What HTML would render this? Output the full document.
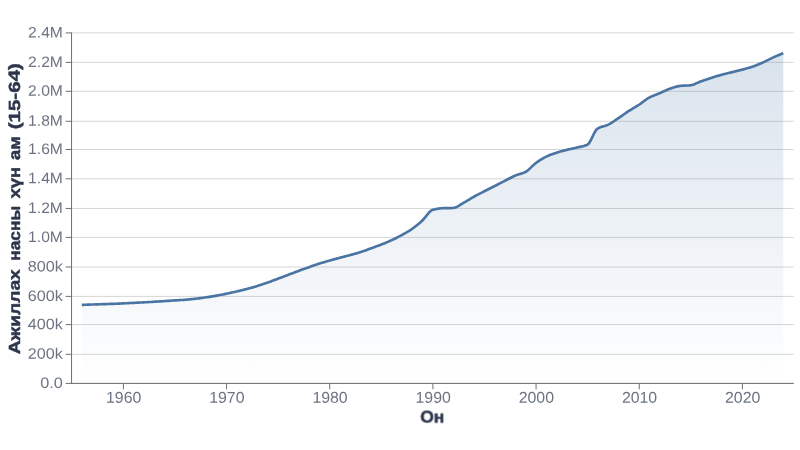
<!DOCTYPE html>
<html lang="mn">
<head>
<meta charset="utf-8">
<title>Ажиллах насны хүн ам (15-64)</title>
<style>
html,body{margin:0;padding:0;background:#fff;}
body{width:800px;height:450px;overflow:hidden;font-family:"Liberation Sans",sans-serif;}
svg{display:block;}
text{font-family:"Liberation Sans",sans-serif;}
.tick{font-size:15.2px;fill:#6b7280;}
.lab{font-size:16.1px;font-weight:bold;fill:#2b3349;stroke:#2b3349;stroke-width:0.45px;stroke-linejoin:round;}
</style>
</head>
<body>
<svg width="800" height="450" viewBox="0 0 800 450">
<defs><linearGradient id="g" gradientUnits="userSpaceOnUse" x1="0" y1="53" x2="0" y2="383.4"><stop offset="0" stop-color="#4272a4" stop-opacity="0.2"/><stop offset="1" stop-color="#4272a4" stop-opacity="0.0"/></linearGradient></defs>
<rect width="800" height="450" fill="#ffffff"/>
<g stroke="#d6d6d6" stroke-width="1.0" fill="none">
<line x1="71.56" y1="383.40" x2="793.75" y2="383.40"/>
<line x1="71.56" y1="354.30" x2="793.75" y2="354.30"/>
<line x1="71.56" y1="324.60" x2="793.75" y2="324.60"/>
<line x1="71.56" y1="296.40" x2="793.75" y2="296.40"/>
<line x1="71.56" y1="267.00" x2="793.75" y2="267.00"/>
<line x1="71.56" y1="237.40" x2="793.75" y2="237.40"/>
<line x1="71.56" y1="208.45" x2="793.75" y2="208.45"/>
<line x1="71.56" y1="178.80" x2="793.75" y2="178.80"/>
<line x1="71.56" y1="149.50" x2="793.75" y2="149.50"/>
<line x1="71.56" y1="121.30" x2="793.75" y2="121.30"/>
<line x1="71.56" y1="91.30" x2="793.75" y2="91.30"/>
<line x1="71.56" y1="62.40" x2="793.75" y2="62.40"/>
<line x1="71.56" y1="32.90" x2="793.75" y2="32.90"/>
</g>
<path d="M81.80 304.89L83.30 304.83L84.80 304.77L86.30 304.72L87.80 304.66L89.30 304.61L90.80 304.55L92.30 304.50L93.80 304.45L95.30 304.41L96.80 304.36L98.30 304.32L99.80 304.27L101.30 304.23L102.80 304.18L104.30 304.13L105.80 304.08L107.30 304.03L108.80 303.98L110.30 303.93L111.80 303.88L113.30 303.82L114.80 303.76L116.30 303.70L117.80 303.63L119.30 303.56L120.80 303.50L122.30 303.43L123.80 303.36L125.30 303.28L126.80 303.20L128.30 303.12L129.80 303.04L131.30 302.96L132.80 302.89L134.30 302.81L135.80 302.74L137.30 302.67L138.80 302.60L140.30 302.53L141.80 302.46L143.30 302.38L144.80 302.30L146.30 302.22L147.80 302.13L149.30 302.04L150.80 301.95L152.30 301.86L153.80 301.77L155.30 301.68L156.80 301.59L158.30 301.50L159.80 301.40L161.30 301.31L162.80 301.21L164.30 301.11L165.80 301.02L167.30 300.92L168.80 300.82L170.30 300.73L171.80 300.63L173.30 300.53L174.80 300.43L176.30 300.33L177.80 300.24L179.30 300.14L180.80 300.05L182.30 299.95L183.80 299.84L185.30 299.73L186.80 299.60L188.30 299.47L189.80 299.33L191.30 299.18L192.80 299.03L194.30 298.87L195.80 298.70L197.30 298.53L198.80 298.35L200.30 298.15L201.80 297.95L203.30 297.74L204.80 297.53L206.30 297.31L207.80 297.09L209.30 296.85L210.80 296.61L212.30 296.36L213.80 296.10L215.30 295.84L216.80 295.58L218.30 295.31L219.80 295.03L221.30 294.74L222.80 294.45L224.30 294.15L225.80 293.85L227.30 293.54L228.80 293.23L230.30 292.91L231.80 292.58L233.30 292.25L234.80 291.92L236.30 291.57L237.80 291.22L239.30 290.87L240.80 290.50L242.30 290.13L243.80 289.75L245.30 289.36L246.80 288.97L248.30 288.58L249.80 288.18L251.30 287.78L252.80 287.36L254.30 286.94L255.80 286.50L257.30 286.05L258.80 285.58L260.30 285.09L261.80 284.59L263.30 284.08L264.80 283.55L266.30 283.02L267.80 282.49L269.30 281.96L270.80 281.41L272.30 280.85L273.80 280.29L275.30 279.73L276.80 279.16L278.30 278.60L279.80 278.03L281.30 277.46L282.80 276.89L284.30 276.32L285.80 275.75L287.30 275.18L288.80 274.61L290.30 274.04L291.80 273.46L293.30 272.89L294.80 272.32L296.30 271.76L297.80 271.20L299.30 270.64L300.80 270.10L302.30 269.55L303.80 269.01L305.30 268.47L306.80 267.94L308.30 267.41L309.80 266.88L311.30 266.35L312.80 265.83L314.30 265.31L315.80 264.80L317.30 264.29L318.80 263.80L320.30 263.33L321.80 262.86L323.30 262.40L324.80 261.95L326.30 261.51L327.80 261.08L329.30 260.65L330.80 260.22L332.30 259.81L333.80 259.40L335.30 259.00L336.80 258.60L338.30 258.20L339.80 257.80L341.30 257.40L342.80 257.01L344.30 256.62L345.80 256.22L347.30 255.83L348.80 255.43L350.30 255.02L351.80 254.61L353.30 254.21L354.80 253.80L356.30 253.38L357.80 252.95L359.30 252.50L360.80 252.03L362.30 251.53L363.80 251.00L365.30 250.45L366.80 249.90L368.30 249.33L369.80 248.78L371.30 248.23L372.80 247.69L374.30 247.15L375.80 246.61L377.30 246.07L378.80 245.51L380.30 244.94L381.80 244.36L383.30 243.76L384.80 243.15L386.30 242.53L387.80 241.90L389.30 241.25L390.80 240.58L392.30 239.89L393.80 239.18L395.30 238.45L396.80 237.70L398.30 236.93L399.80 236.14L401.30 235.34L402.80 234.51L404.30 233.68L405.80 232.83L407.30 231.95L408.80 231.04L410.30 230.08L411.80 229.08L413.30 228.01L414.80 226.89L416.30 225.71L417.80 224.48L419.30 223.21L420.80 221.89L422.30 220.53L423.80 218.96L425.30 217.12L426.80 215.19L428.30 213.32L429.80 211.70L431.30 210.48L432.80 209.83L434.30 209.43L435.80 209.09L437.30 208.80L438.80 208.56L440.30 208.38L441.80 208.25L443.30 208.19L444.80 208.15L446.30 208.12L447.80 208.11L449.30 208.09L450.80 208.06L452.30 208.03L453.80 207.94L455.30 207.58L456.80 206.94L458.30 206.12L459.80 205.18L461.30 204.21L462.80 203.29L464.30 202.46L465.80 201.59L467.30 200.70L468.80 199.78L470.30 198.86L471.80 197.96L473.30 197.09L474.80 196.25L476.30 195.44L477.80 194.64L479.30 193.86L480.80 193.08L482.30 192.31L483.80 191.54L485.30 190.77L486.80 190.02L488.30 189.27L489.80 188.53L491.30 187.78L492.80 187.03L494.30 186.27L495.80 185.50L497.30 184.73L498.80 183.94L500.30 183.16L501.80 182.37L503.30 181.60L504.80 180.83L506.30 180.05L507.80 179.26L509.30 178.48L510.80 177.70L512.30 176.96L513.80 176.25L515.30 175.61L516.80 175.05L518.30 174.55L519.80 174.09L521.30 173.63L522.80 173.11L524.30 172.51L525.80 171.78L527.30 170.77L528.80 169.51L530.30 168.10L531.80 166.63L533.30 165.19L534.80 163.87L536.30 162.75L537.80 161.69L539.30 160.67L540.80 159.69L542.30 158.76L543.80 157.90L545.30 157.10L546.80 156.38L548.30 155.71L549.80 155.08L551.30 154.48L552.80 153.93L554.30 153.40L555.80 152.90L557.30 152.42L558.80 151.98L560.30 151.55L561.80 151.15L563.30 150.76L564.80 150.38L566.30 150.00L567.80 149.64L569.30 149.28L570.80 148.94L572.30 148.61L573.80 148.27L575.30 147.93L576.80 147.56L578.30 147.22L579.80 146.90L581.30 146.59L582.80 146.26L584.30 145.86L585.80 145.38L587.30 144.76L588.80 143.43L590.30 141.09L591.80 138.14L593.30 135.00L594.80 132.06L596.30 129.72L597.80 128.39L599.30 127.65L600.80 127.08L602.30 126.61L603.80 126.20L605.30 125.77L606.80 125.26L608.30 124.62L609.80 123.84L611.30 122.95L612.80 121.99L614.30 120.98L615.80 119.95L617.30 118.92L618.80 117.92L620.30 116.90L621.80 115.85L623.30 114.79L624.80 113.72L626.30 112.68L627.80 111.66L629.30 110.69L630.80 109.76L632.30 108.86L633.80 107.98L635.30 107.09L636.80 106.18L638.30 105.24L639.80 104.24L641.30 103.15L642.80 102.02L644.30 100.87L645.80 99.76L647.30 98.73L648.80 97.82L650.30 97.04L651.80 96.35L653.30 95.72L654.80 95.12L656.30 94.54L657.80 93.95L659.30 93.34L660.80 92.68L662.30 91.99L663.80 91.29L665.30 90.60L666.80 89.94L668.30 89.33L669.80 88.78L671.30 88.26L672.80 87.74L674.30 87.24L675.80 86.78L677.30 86.38L678.80 86.08L680.30 85.88L681.80 85.76L683.30 85.67L684.80 85.61L686.30 85.54L687.80 85.47L689.30 85.37L690.80 85.22L692.30 84.90L693.80 84.42L695.30 83.81L696.80 83.14L698.30 82.46L699.80 81.82L701.30 81.27L702.80 80.75L704.30 80.24L705.80 79.73L707.30 79.23L708.80 78.73L710.30 78.25L711.80 77.76L713.30 77.28L714.80 76.81L716.30 76.34L717.80 75.87L719.30 75.43L720.80 75.00L722.30 74.58L723.80 74.19L725.30 73.81L726.80 73.44L728.30 73.08L729.80 72.71L731.30 72.35L732.80 71.97L734.30 71.61L735.80 71.25L737.30 70.88L738.80 70.51L740.30 70.14L741.80 69.75L743.30 69.35L744.80 68.94L746.30 68.53L747.80 68.10L749.30 67.66L750.80 67.20L752.30 66.71L753.80 66.19L755.30 65.64L756.80 65.06L758.30 64.46L759.80 63.83L761.30 63.19L762.80 62.54L764.30 61.85L765.80 61.12L767.30 60.37L768.80 59.60L770.30 58.85L771.80 58.12L773.30 57.42L774.80 56.75L776.30 56.09L777.80 55.45L779.30 54.81L780.80 54.20L782.30 53.59L783.29 53.20L783.29 383.40L81.80 383.40Z" fill="url(#g)" stroke="none"/>
<path d="M81.80 304.89L83.30 304.83L84.80 304.77L86.30 304.72L87.80 304.66L89.30 304.61L90.80 304.55L92.30 304.50L93.80 304.45L95.30 304.41L96.80 304.36L98.30 304.32L99.80 304.27L101.30 304.23L102.80 304.18L104.30 304.13L105.80 304.08L107.30 304.03L108.80 303.98L110.30 303.93L111.80 303.88L113.30 303.82L114.80 303.76L116.30 303.70L117.80 303.63L119.30 303.56L120.80 303.50L122.30 303.43L123.80 303.36L125.30 303.28L126.80 303.20L128.30 303.12L129.80 303.04L131.30 302.96L132.80 302.89L134.30 302.81L135.80 302.74L137.30 302.67L138.80 302.60L140.30 302.53L141.80 302.46L143.30 302.38L144.80 302.30L146.30 302.22L147.80 302.13L149.30 302.04L150.80 301.95L152.30 301.86L153.80 301.77L155.30 301.68L156.80 301.59L158.30 301.50L159.80 301.40L161.30 301.31L162.80 301.21L164.30 301.11L165.80 301.02L167.30 300.92L168.80 300.82L170.30 300.73L171.80 300.63L173.30 300.53L174.80 300.43L176.30 300.33L177.80 300.24L179.30 300.14L180.80 300.05L182.30 299.95L183.80 299.84L185.30 299.73L186.80 299.60L188.30 299.47L189.80 299.33L191.30 299.18L192.80 299.03L194.30 298.87L195.80 298.70L197.30 298.53L198.80 298.35L200.30 298.15L201.80 297.95L203.30 297.74L204.80 297.53L206.30 297.31L207.80 297.09L209.30 296.85L210.80 296.61L212.30 296.36L213.80 296.10L215.30 295.84L216.80 295.58L218.30 295.31L219.80 295.03L221.30 294.74L222.80 294.45L224.30 294.15L225.80 293.85L227.30 293.54L228.80 293.23L230.30 292.91L231.80 292.58L233.30 292.25L234.80 291.92L236.30 291.57L237.80 291.22L239.30 290.87L240.80 290.50L242.30 290.13L243.80 289.75L245.30 289.36L246.80 288.97L248.30 288.58L249.80 288.18L251.30 287.78L252.80 287.36L254.30 286.94L255.80 286.50L257.30 286.05L258.80 285.58L260.30 285.09L261.80 284.59L263.30 284.08L264.80 283.55L266.30 283.02L267.80 282.49L269.30 281.96L270.80 281.41L272.30 280.85L273.80 280.29L275.30 279.73L276.80 279.16L278.30 278.60L279.80 278.03L281.30 277.46L282.80 276.89L284.30 276.32L285.80 275.75L287.30 275.18L288.80 274.61L290.30 274.04L291.80 273.46L293.30 272.89L294.80 272.32L296.30 271.76L297.80 271.20L299.30 270.64L300.80 270.10L302.30 269.55L303.80 269.01L305.30 268.47L306.80 267.94L308.30 267.41L309.80 266.88L311.30 266.35L312.80 265.83L314.30 265.31L315.80 264.80L317.30 264.29L318.80 263.80L320.30 263.33L321.80 262.86L323.30 262.40L324.80 261.95L326.30 261.51L327.80 261.08L329.30 260.65L330.80 260.22L332.30 259.81L333.80 259.40L335.30 259.00L336.80 258.60L338.30 258.20L339.80 257.80L341.30 257.40L342.80 257.01L344.30 256.62L345.80 256.22L347.30 255.83L348.80 255.43L350.30 255.02L351.80 254.61L353.30 254.21L354.80 253.80L356.30 253.38L357.80 252.95L359.30 252.50L360.80 252.03L362.30 251.53L363.80 251.00L365.30 250.45L366.80 249.90L368.30 249.33L369.80 248.78L371.30 248.23L372.80 247.69L374.30 247.15L375.80 246.61L377.30 246.07L378.80 245.51L380.30 244.94L381.80 244.36L383.30 243.76L384.80 243.15L386.30 242.53L387.80 241.90L389.30 241.25L390.80 240.58L392.30 239.89L393.80 239.18L395.30 238.45L396.80 237.70L398.30 236.93L399.80 236.14L401.30 235.34L402.80 234.51L404.30 233.68L405.80 232.83L407.30 231.95L408.80 231.04L410.30 230.08L411.80 229.08L413.30 228.01L414.80 226.89L416.30 225.71L417.80 224.48L419.30 223.21L420.80 221.89L422.30 220.53L423.80 218.96L425.30 217.12L426.80 215.19L428.30 213.32L429.80 211.70L431.30 210.48L432.80 209.83L434.30 209.43L435.80 209.09L437.30 208.80L438.80 208.56L440.30 208.38L441.80 208.25L443.30 208.19L444.80 208.15L446.30 208.12L447.80 208.11L449.30 208.09L450.80 208.06L452.30 208.03L453.80 207.94L455.30 207.58L456.80 206.94L458.30 206.12L459.80 205.18L461.30 204.21L462.80 203.29L464.30 202.46L465.80 201.59L467.30 200.70L468.80 199.78L470.30 198.86L471.80 197.96L473.30 197.09L474.80 196.25L476.30 195.44L477.80 194.64L479.30 193.86L480.80 193.08L482.30 192.31L483.80 191.54L485.30 190.77L486.80 190.02L488.30 189.27L489.80 188.53L491.30 187.78L492.80 187.03L494.30 186.27L495.80 185.50L497.30 184.73L498.80 183.94L500.30 183.16L501.80 182.37L503.30 181.60L504.80 180.83L506.30 180.05L507.80 179.26L509.30 178.48L510.80 177.70L512.30 176.96L513.80 176.25L515.30 175.61L516.80 175.05L518.30 174.55L519.80 174.09L521.30 173.63L522.80 173.11L524.30 172.51L525.80 171.78L527.30 170.77L528.80 169.51L530.30 168.10L531.80 166.63L533.30 165.19L534.80 163.87L536.30 162.75L537.80 161.69L539.30 160.67L540.80 159.69L542.30 158.76L543.80 157.90L545.30 157.10L546.80 156.38L548.30 155.71L549.80 155.08L551.30 154.48L552.80 153.93L554.30 153.40L555.80 152.90L557.30 152.42L558.80 151.98L560.30 151.55L561.80 151.15L563.30 150.76L564.80 150.38L566.30 150.00L567.80 149.64L569.30 149.28L570.80 148.94L572.30 148.61L573.80 148.27L575.30 147.93L576.80 147.56L578.30 147.22L579.80 146.90L581.30 146.59L582.80 146.26L584.30 145.86L585.80 145.38L587.30 144.76L588.80 143.43L590.30 141.09L591.80 138.14L593.30 135.00L594.80 132.06L596.30 129.72L597.80 128.39L599.30 127.65L600.80 127.08L602.30 126.61L603.80 126.20L605.30 125.77L606.80 125.26L608.30 124.62L609.80 123.84L611.30 122.95L612.80 121.99L614.30 120.98L615.80 119.95L617.30 118.92L618.80 117.92L620.30 116.90L621.80 115.85L623.30 114.79L624.80 113.72L626.30 112.68L627.80 111.66L629.30 110.69L630.80 109.76L632.30 108.86L633.80 107.98L635.30 107.09L636.80 106.18L638.30 105.24L639.80 104.24L641.30 103.15L642.80 102.02L644.30 100.87L645.80 99.76L647.30 98.73L648.80 97.82L650.30 97.04L651.80 96.35L653.30 95.72L654.80 95.12L656.30 94.54L657.80 93.95L659.30 93.34L660.80 92.68L662.30 91.99L663.80 91.29L665.30 90.60L666.80 89.94L668.30 89.33L669.80 88.78L671.30 88.26L672.80 87.74L674.30 87.24L675.80 86.78L677.30 86.38L678.80 86.08L680.30 85.88L681.80 85.76L683.30 85.67L684.80 85.61L686.30 85.54L687.80 85.47L689.30 85.37L690.80 85.22L692.30 84.90L693.80 84.42L695.30 83.81L696.80 83.14L698.30 82.46L699.80 81.82L701.30 81.27L702.80 80.75L704.30 80.24L705.80 79.73L707.30 79.23L708.80 78.73L710.30 78.25L711.80 77.76L713.30 77.28L714.80 76.81L716.30 76.34L717.80 75.87L719.30 75.43L720.80 75.00L722.30 74.58L723.80 74.19L725.30 73.81L726.80 73.44L728.30 73.08L729.80 72.71L731.30 72.35L732.80 71.97L734.30 71.61L735.80 71.25L737.30 70.88L738.80 70.51L740.30 70.14L741.80 69.75L743.30 69.35L744.80 68.94L746.30 68.53L747.80 68.10L749.30 67.66L750.80 67.20L752.30 66.71L753.80 66.19L755.30 65.64L756.80 65.06L758.30 64.46L759.80 63.83L761.30 63.19L762.80 62.54L764.30 61.85L765.80 61.12L767.30 60.37L768.80 59.60L770.30 58.85L771.80 58.12L773.30 57.42L774.80 56.75L776.30 56.09L777.80 55.45L779.30 54.81L780.80 54.20L782.30 53.59L783.29 53.20" fill="none" stroke="#4a74a2" stroke-width="2.65" stroke-linejoin="round" stroke-linecap="butt"/>
<g stroke="#6e6e6e" stroke-width="1.0" fill="none">
<line x1="71.56" y1="32.40" x2="71.56" y2="383.95"/>
<line x1="71.01" y1="383.40" x2="793.75" y2="383.40"/>
<line x1="65.66" y1="383.40" x2="71.56" y2="383.40"/>
<line x1="65.66" y1="354.30" x2="71.56" y2="354.30"/>
<line x1="65.66" y1="324.60" x2="71.56" y2="324.60"/>
<line x1="65.66" y1="296.40" x2="71.56" y2="296.40"/>
<line x1="65.66" y1="267.00" x2="71.56" y2="267.00"/>
<line x1="65.66" y1="237.40" x2="71.56" y2="237.40"/>
<line x1="65.66" y1="208.45" x2="71.56" y2="208.45"/>
<line x1="65.66" y1="178.80" x2="71.56" y2="178.80"/>
<line x1="65.66" y1="149.50" x2="71.56" y2="149.50"/>
<line x1="65.66" y1="121.30" x2="71.56" y2="121.30"/>
<line x1="65.66" y1="91.30" x2="71.56" y2="91.30"/>
<line x1="65.66" y1="62.40" x2="71.56" y2="62.40"/>
<line x1="65.66" y1="32.90" x2="71.56" y2="32.90"/>
<line x1="123.40" y1="383.40" x2="123.40" y2="389.30"/>
<line x1="226.57" y1="383.40" x2="226.57" y2="389.30"/>
<line x1="329.73" y1="383.40" x2="329.73" y2="389.30"/>
<line x1="432.90" y1="383.40" x2="432.90" y2="389.30"/>
<line x1="536.07" y1="383.40" x2="536.07" y2="389.30"/>
<line x1="639.24" y1="383.40" x2="639.24" y2="389.30"/>
<line x1="742.40" y1="383.40" x2="742.40" y2="389.30"/>
</g>
<g class="tick" opacity="0.99">
<text transform="translate(40.30 387.95) rotate(0.05)" textLength="22.60" lengthAdjust="spacingAndGlyphs">0.0</text>
<text transform="translate(27.80 358.85) rotate(0.05)" textLength="35.10" lengthAdjust="spacingAndGlyphs">200k</text>
<text transform="translate(27.80 329.15) rotate(0.05)" textLength="35.10" lengthAdjust="spacingAndGlyphs">400k</text>
<text transform="translate(27.80 300.95) rotate(0.05)" textLength="35.10" lengthAdjust="spacingAndGlyphs">600k</text>
<text transform="translate(27.80 271.55) rotate(0.05)" textLength="35.10" lengthAdjust="spacingAndGlyphs">800k</text>
<text transform="translate(28.10 241.95) rotate(0.05)" textLength="34.80" lengthAdjust="spacingAndGlyphs">1.0M</text>
<text transform="translate(28.10 213.00) rotate(0.05)" textLength="34.80" lengthAdjust="spacingAndGlyphs">1.2M</text>
<text transform="translate(28.10 183.35) rotate(0.05)" textLength="34.80" lengthAdjust="spacingAndGlyphs">1.4M</text>
<text transform="translate(28.10 154.05) rotate(0.05)" textLength="34.80" lengthAdjust="spacingAndGlyphs">1.6M</text>
<text transform="translate(28.10 125.85) rotate(0.05)" textLength="34.80" lengthAdjust="spacingAndGlyphs">1.8M</text>
<text transform="translate(28.10 95.85) rotate(0.05)" textLength="34.80" lengthAdjust="spacingAndGlyphs">2.0M</text>
<text transform="translate(28.10 66.95) rotate(0.05)" textLength="34.80" lengthAdjust="spacingAndGlyphs">2.2M</text>
<text transform="translate(28.10 37.45) rotate(0.05)" textLength="34.80" lengthAdjust="spacingAndGlyphs">2.4M</text>
<text transform="translate(106.05 402.70) rotate(0.05)" style="font-size:15.7px" textLength="35.30" lengthAdjust="spacingAndGlyphs">1960</text>
<text transform="translate(209.22 402.70) rotate(0.05)" style="font-size:15.7px" textLength="35.30" lengthAdjust="spacingAndGlyphs">1970</text>
<text transform="translate(312.38 402.70) rotate(0.05)" style="font-size:15.7px" textLength="35.30" lengthAdjust="spacingAndGlyphs">1980</text>
<text transform="translate(415.55 402.70) rotate(0.05)" style="font-size:15.7px" textLength="35.30" lengthAdjust="spacingAndGlyphs">1990</text>
<text transform="translate(518.72 402.70) rotate(0.05)" style="font-size:15.7px" textLength="35.30" lengthAdjust="spacingAndGlyphs">2000</text>
<text transform="translate(621.88 402.70) rotate(0.05)" style="font-size:15.7px" textLength="35.30" lengthAdjust="spacingAndGlyphs">2010</text>
<text transform="translate(725.05 402.70) rotate(0.05)" style="font-size:15.7px" textLength="35.30" lengthAdjust="spacingAndGlyphs">2020</text>
</g>
<g class="lab" opacity="0.99">
<text transform="translate(420.30 422.60) rotate(0.05)" style="font-size:17.15px" textLength="24.20" lengthAdjust="spacingAndGlyphs">Он</text>
<text transform="translate(19.90 354.30) rotate(-90.03)" textLength="85.10" lengthAdjust="spacingAndGlyphs">Ажиллах</text>
<text transform="translate(19.90 260.80) rotate(-90.03)" textLength="55.00" lengthAdjust="spacingAndGlyphs">насны</text>
<text transform="translate(19.90 198.60) rotate(-90.03)" textLength="31.70" lengthAdjust="spacingAndGlyphs">хүн</text>
<text transform="translate(19.90 160.00) rotate(-90.03)" textLength="23.60" lengthAdjust="spacingAndGlyphs">ам</text>
<text transform="translate(19.90 129.30) rotate(-90.03)" textLength="66.20" lengthAdjust="spacingAndGlyphs">(15-64)</text>
</g>
</svg>
</body>
</html>
